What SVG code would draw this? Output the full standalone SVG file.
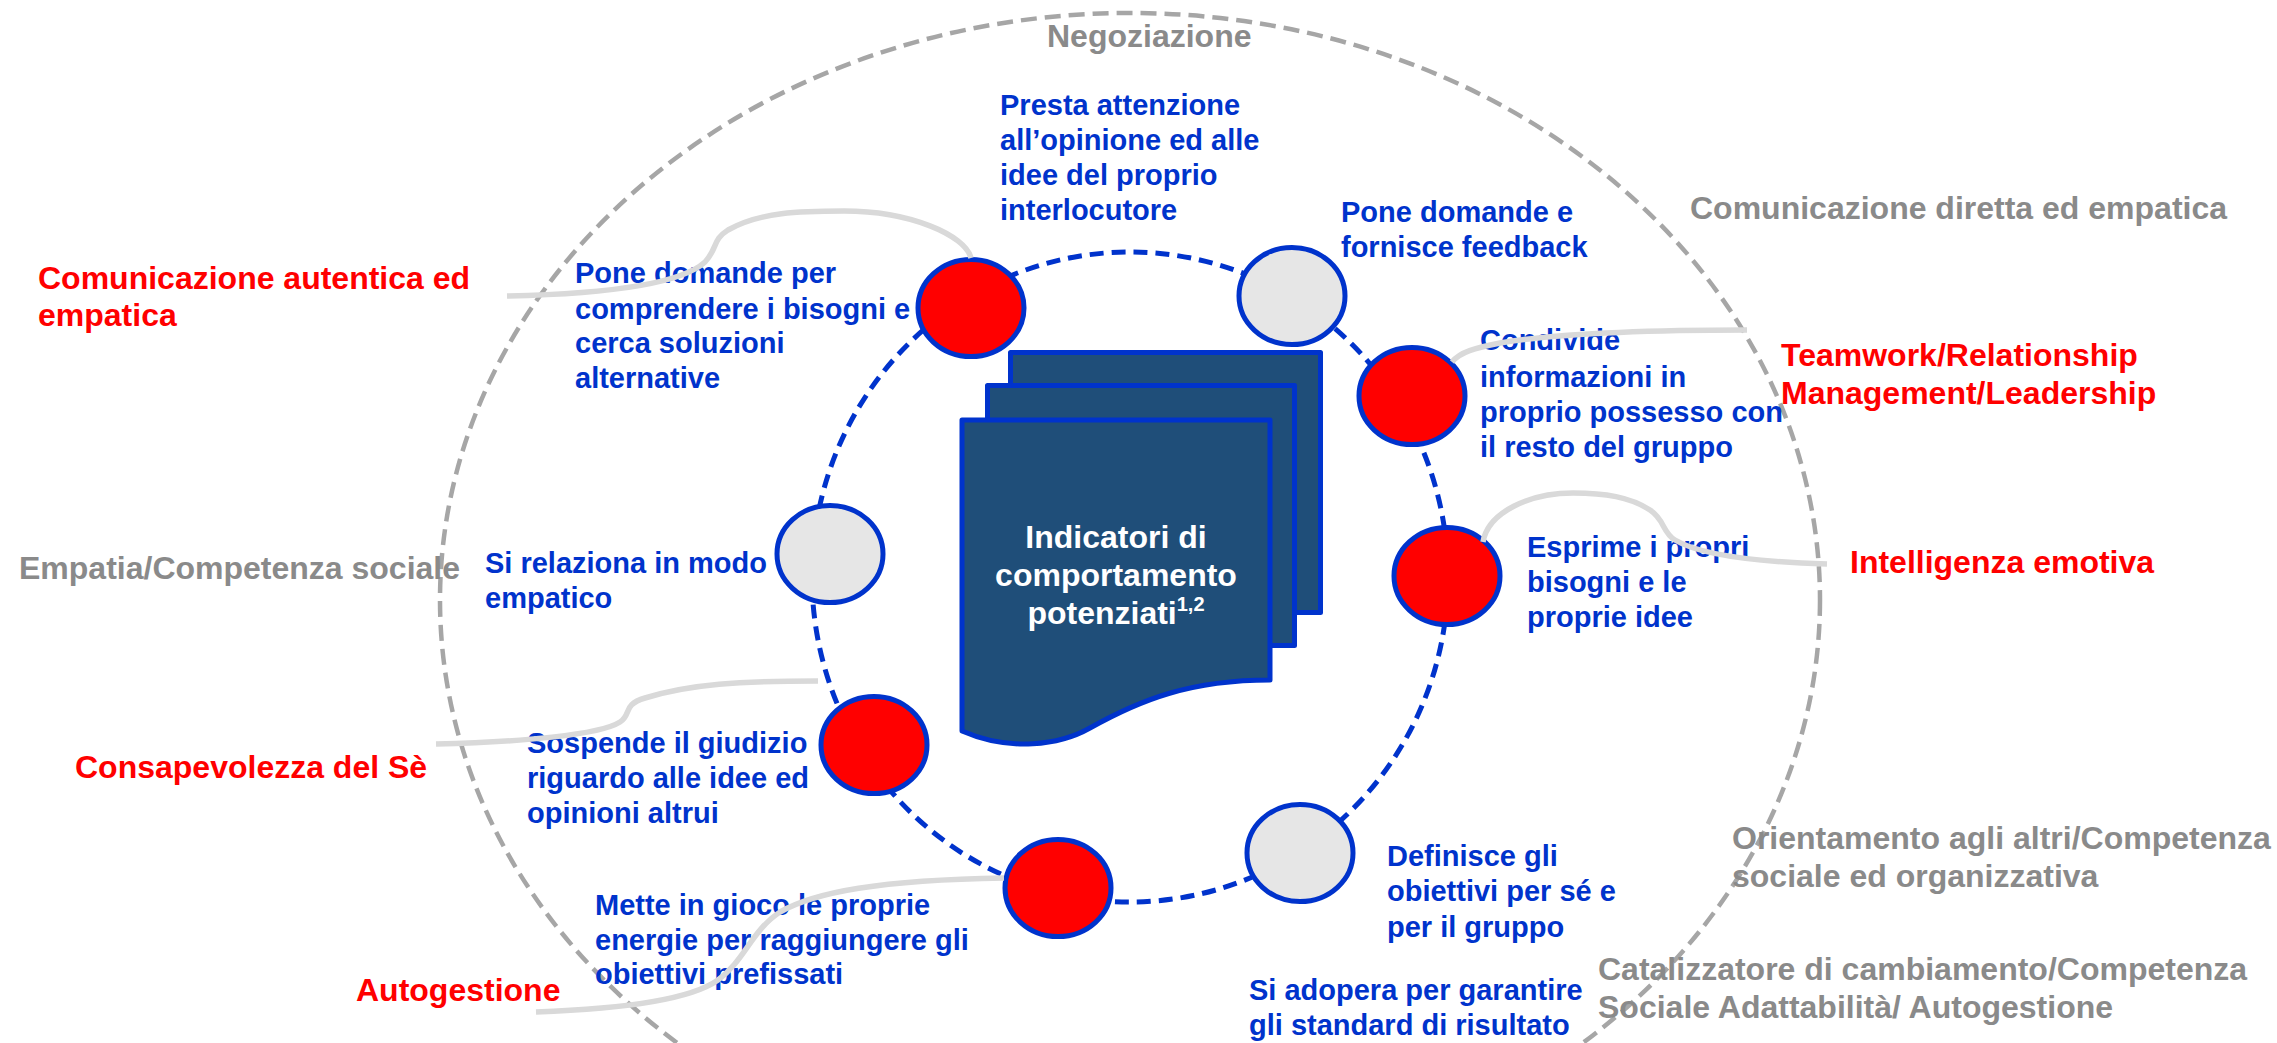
<svg xmlns="http://www.w3.org/2000/svg" width="2277" height="1043" viewBox="0 0 2277 1043">
<style>
text{font-family:"Liberation Sans",Arial,sans-serif;font-weight:bold}
.blue{fill:#0033CC;font-size:29px}
.red{fill:#FF0000;font-size:32px}
.gray{fill:#8A8A8A;font-size:32px}
.ctr{fill:#FFFFFF;font-size:32px}
.nodeR{fill:#FF0000;stroke:#0033CC;stroke-width:5}
.nodeG{fill:#E6E6E6;stroke:#0033CC;stroke-width:5}
.page{fill:#1F4E79;stroke:#0033CC;stroke-width:5;stroke-linejoin:round}
.link{fill:none;stroke:#D9D9D9;stroke-width:5.5;stroke-linecap:butt}
</style>
<rect width="2277" height="1043" fill="#FFFFFF"/>
<g id="outer-ring">
<ellipse cx="1130" cy="600" rx="690" ry="587" fill="none" stroke="#A6A6A6" stroke-width="4.5" stroke-dasharray="16 8"/>
</g>
<g id="inner-ring">
<ellipse cx="1130" cy="577" rx="318" ry="325" fill="none" stroke="#0033CC" stroke-width="5" stroke-dasharray="14 8"/>
</g>
<g id="document">
<rect class="page" x="1010.5" y="352.5" width="310" height="260"/>
<rect class="page" x="987.5" y="385.5" width="307" height="260"/>
<path class="page" d="M962,420 H1270 V680 C1190,680 1140,700 1090,728 C1060,745 1010,752 962,731 Z"/>
<text class="ctr" text-anchor="middle"><tspan x="1116" y="548">Indicatori di</tspan><tspan x="1116" y="586">comportamento</tspan></text>
<text class="ctr" x="1116" y="624" text-anchor="middle">potenziati<tspan font-size="20" dy="-13">1,2</tspan></text>
</g>
<g id="node-presta">
<text class="blue"><tspan x="1000" y="115">Presta attenzione</tspan><tspan x="1000" y="150">all’opinione ed alle</tspan><tspan x="1000" y="185">idee del proprio</tspan><tspan x="1000" y="220">interlocutore</tspan></text>
</g>
<g id="node-pone-per">
<ellipse class="nodeR" cx="971" cy="308" rx="53" ry="48.5"/>
<text class="blue"><tspan x="575" y="283">Pone domande per</tspan><tspan x="575" y="319">comprendere i bisogni e</tspan><tspan x="575" y="353">cerca soluzioni</tspan><tspan x="575" y="388">alternative</tspan></text>
</g>
<g id="node-pone-feedback">
<ellipse class="nodeG" cx="1292" cy="296" rx="53" ry="48.5"/>
<text class="blue"><tspan x="1341" y="222">Pone domande e</tspan><tspan x="1341" y="257">fornisce feedback</tspan></text>
</g>
<g id="node-condivide">
<ellipse class="nodeR" cx="1412" cy="396" rx="53" ry="48.5"/>
<text class="blue"><tspan x="1480" y="350">Condivide</tspan><tspan x="1480" y="387">informazioni in</tspan><tspan x="1480" y="422">proprio possesso con</tspan><tspan x="1480" y="457">il resto del gruppo</tspan></text>
</g>
<g id="node-esprime">
<ellipse class="nodeR" cx="1447" cy="576" rx="53" ry="48.5"/>
<text class="blue"><tspan x="1527" y="557">Esprime i propri</tspan><tspan x="1527" y="592">bisogni e le</tspan><tspan x="1527" y="627">proprie idee</tspan></text>
</g>
<g id="node-definisce">
<ellipse class="nodeG" cx="1300" cy="853" rx="53" ry="48.5"/>
<text class="blue"><tspan x="1387" y="866">Definisce gli</tspan><tspan x="1387" y="901">obiettivi per sé e</tspan><tspan x="1387" y="937">per il gruppo</tspan></text>
</g>
<g id="node-adopera">
<text class="blue"><tspan x="1249" y="1000">Si adopera per garantire</tspan><tspan x="1249" y="1035">gli standard di risultato</tspan></text>
</g>
<g id="node-mette">
<ellipse class="nodeR" cx="1058" cy="888" rx="53" ry="48.5"/>
<text class="blue"><tspan x="595" y="915">Mette in gioco le proprie</tspan><tspan x="595" y="950">energie per raggiungere gli</tspan><tspan x="595" y="984">obiettivi prefissati</tspan></text>
</g>
<g id="node-sospende">
<ellipse class="nodeR" cx="874" cy="745" rx="53" ry="48.5"/>
<text class="blue"><tspan x="527" y="753">Sospende il giudizio</tspan><tspan x="527" y="788">riguardo alle idee ed</tspan><tspan x="527" y="823">opinioni altrui</tspan></text>
</g>
<g id="node-relaziona">
<ellipse class="nodeG" cx="830" cy="554" rx="53" ry="48.5"/>
<text class="blue"><tspan x="485" y="573">Si relaziona in modo</tspan><tspan x="485" y="608">empatico</tspan></text>
</g>
<g id="labels-gray">
<text class="gray" x="1047" y="47">Negoziazione</text>
<text class="gray" x="1690" y="219">Comunicazione diretta ed empatica</text>
<text class="gray" x="19" y="579">Empatia/Competenza sociale</text>
<text class="gray"><tspan x="1732" y="849">Orientamento agli altri/Competenza</tspan><tspan x="1732" y="887">sociale ed organizzativa</tspan></text>
<text class="gray"><tspan x="1598" y="980">Catalizzatore di cambiamento/Competenza</tspan><tspan x="1598" y="1018">Sociale Adattabilità/ Autogestione</tspan></text>
</g>
<g id="labels-red">
<text class="red"><tspan x="38" y="289">Comunicazione autentica ed</tspan><tspan x="38" y="326">empatica</tspan></text>
<text class="red"><tspan x="1781" y="366">Teamwork/Relationship</tspan><tspan x="1781" y="404">Management/Leadership</tspan></text>
<text class="red" x="1850" y="573">Intelligenza emotiva</text>
<text class="red" x="75" y="778">Consapevolezza del Sè</text>
<text class="red" x="356" y="1001">Autogestione</text>
</g>
<g id="connectors">
<path class="link" d="M507,296 C600,294 680,285 705,262 C718,248 712,240 728,230 C760,212 800,211 844,211 C910,211 965,235 971,258"/>
<path class="link" d="M1747,330 C1640,330 1560,333 1500,343 C1475,348 1460,352 1452,362"/>
<path class="link" d="M1827,564 C1760,562 1700,555 1675,540 C1662,532 1665,520 1650,510 C1630,497 1605,493 1573,493 C1530,493 1488,512 1483,542"/>
<path class="link" d="M436,744 C520,742 600,735 620,722 C632,714 622,705 645,698 C690,684 740,681 818,681"/>
<path class="link" d="M536,1012 C620,1009 690,1000 718,980 C745,960 752,930 780,912 C815,892 880,880 1004,878"/>
</g>
</svg>
